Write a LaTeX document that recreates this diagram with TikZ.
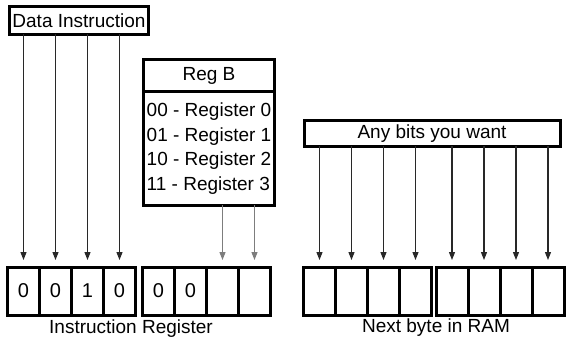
\documentclass[tikz,border=0pt]{standalone}
\usepackage{fontspec}
\setmainfont{Liberation Sans}
\usetikzlibrary{arrows.meta,positioning}
\definecolor{bitArrowDark}{RGB}{40,40,40}
\definecolor{regArrowGray}{RGB}{125,125,125}

\begin{document}
\begin{tikzpicture}[
  x=1pt, y=-1pt,
  bitcell/.style={
    draw,
    line width=3pt,
    minimum width=32pt,
    minimum height=48pt,
    outer sep=0pt,
    inner sep=0pt,
    font=\fontsize{20}{22}\selectfont
  },
  labelbox/.style={
    draw,
    line width=3pt,
    outer sep=0pt,
    inner sep=1pt,
    font=\fontsize{19}{21}\selectfont
  },
  caption/.style={inner sep=0pt, font=\fontsize{19}{21}\selectfont},
  arrow/.style={-{Triangle[length=8pt,width=6pt]},line width=1.1pt,bitArrowDark,shorten >=7pt}
]
  \useasboundingbox (0,0) rectangle (567,339);

  % label boxes
  \node[labelbox,minimum width=139pt,minimum height=28pt] (dataInstr) at (79,20.5) {Data Instruction};
  \node[labelbox,minimum width=131pt,minimum height=32pt] (regB) at (209,76) {Reg B};
  \node[labelbox,minimum width=131pt,minimum height=113pt,below=0pt of regB,align=left,
    font=\fontsize{19}{24.5}\selectfont] (regList)
    {00 - Register 0\\01 - Register 1\\10 - Register 2\\11 - Register 3};
  \node[labelbox,minimum width=256pt,minimum height=26pt] (anyBits) at (432,133.5) {Any bits you want};

  % instruction register
  \node[bitcell] (ir0) at (23.5,291) {0};
  \node[bitcell,right=0pt of ir0] (ir1) {0};
  \node[bitcell,right=0pt of ir1] (ir2) {1};
  \node[bitcell,right=0pt of ir2] (ir3) {0};
  \node[bitcell,right=7pt of ir3] (ir4) {0};
  \node[bitcell,right=0pt of ir4] (ir5) {0};
  \node[bitcell,right=0pt of ir5] (ir6) {};
  \node[bitcell,right=0pt of ir6] (ir7) {};

  % next byte in RAM
  \node[bitcell] (ram0) at (319.5,291) {};
  \node[bitcell,right=0pt of ram0] (ram1) {};
  \node[bitcell,right=0pt of ram1] (ram2) {};
  \node[bitcell,right=0pt of ram2] (ram3) {};
  \node[bitcell,right=4.5pt of ram3] (ram4) {};
  \node[bitcell,right=0pt of ram4] (ram5) {};
  \node[bitcell,right=0pt of ram5] (ram6) {};
  \node[bitcell,right=0pt of ram6] (ram7) {};

  \node[caption] (irCaption) at (131,329) {Instruction Register};
  \node[caption] (ramCaption) at (436,328) {Next byte in RAM};

  % arrows
  \foreach \i in {0,...,3}
    \draw[arrow] (dataInstr.south -| ir\i) -- (ir\i.north);
  \foreach \i in {6,7}
    \draw[arrow,regArrowGray] (regList.south -| ir\i) -- (ir\i.north);
  \foreach \i in {0,...,7}
    \draw[arrow] (anyBits.south -| ram\i) -- (ram\i.north);
\end{tikzpicture}
\end{document}
